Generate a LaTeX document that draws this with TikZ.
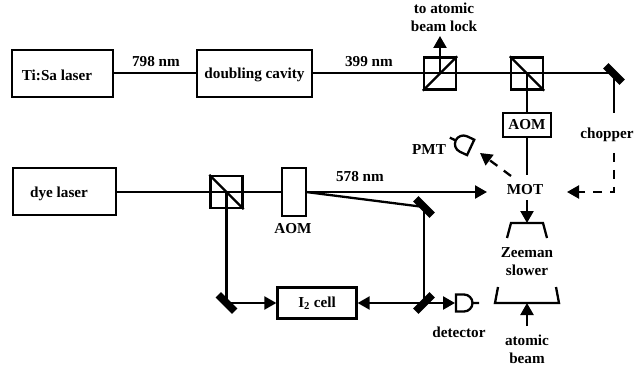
\documentclass[tikz,border=0pt]{standalone}
\usepackage{fontspec}
\setmainfont{Liberation Serif}
\usetikzlibrary{arrows.meta}
\tikzset{
  x=1pt,y=-1pt,
  every node/.style={font=\fontsize{15.2}{18}\selectfont\bfseries,inner sep=0pt},
  beam/.style={line width=2.3pt,line join=miter},
  arrowbeam/.style={beam,-{Triangle[length=12pt,width=13pt]}},
  dashbeam/.style={arrowbeam,dash pattern=on 9pt off 8pt},
  boxnode/.style={draw,line width=2.3pt,minimum width=#1,anchor=center},
  cube/.style={draw,line width=2.3pt,minimum width=32pt,minimum height=32pt},
  mirror/.style={fill=black,minimum width=23pt,minimum height=7.5pt},
  lbl/.style={align=center}
}
\newcommand{\photodet}[3]{%
  \draw[beam,shift={(#1,#2)},rotate=#3] (-8,-8.5) -- (0,-8.5) arc[start angle=90,end angle=-90,x radius=8.5,y radius=-8.5] -- (-8,8.5) -- cycle (8.5,0) -- (15,0);}
\begin{document}
\begin{tikzpicture}
\useasboundingbox (0,0) rectangle (634,366);
% boxes
\node[boxnode=101pt,minimum height=47pt] (tisa) at (62.5,73.5) {};
\node (tisalabel) at (57,75) {Ti:Sa laser};
\node[boxnode=115pt,minimum height=47pt] (dbl) at (254.5,73.5) {};
\node (dbllabel) at (254.5,75) {doubling cavity};
\node[boxnode=103pt,minimum height=47pt] (dye) at (64.5,191.5) {};
\node (dyelabel) at (59,194) {dye laser};
\node[boxnode=24pt,minimum height=48pt] (aomb) at (294,192) {};
\node[boxnode=48pt,minimum height=24pt] (aomt) at (527,125) {AOM};
\node[boxnode=79pt,minimum height=31pt] (cell) at (317,303) {I\textsubscript{2} cell};
% cubes
\node[cube] (bs1) at (440,73.5) {};
\node[cube] (bs2) at (527,73.5) {};
\node[cube] (bs3) at (226.5,192) {};
\draw[beam] (bs1.south west) -- (bs1.north east);
\draw[beam] (bs2.north west) -- (bs2.south east);
\draw[beam] (bs3.north west) -- (bs3.south east);
% mirrors
\node[mirror,rotate=-45] (m1) at (614,74) {};
\node[mirror,rotate=-45] (m2) at (424,207) {};
\node[mirror,rotate=45] (m3) at (424,303) {};
\node[mirror,rotate=-45] (m4) at (226.5,303) {};
% labels
\node (l798) at (156,62) {798 nm};
\node (l399) at (369,62) {399 nm};
\node (l578) at (360,177) {578 nm};
\node[lbl] (ltop) at (444,17) {to atomic\\beam lock};
\node[anchor=east] (lchop) at (633.7,135) {chopper};
\node (lpmt) at (429,150) {PMT};
\node (laom) at (293,229) {AOM};
\node (mot) at (525,190) {MOT};
\node[lbl] (zs) at (527,262) {Zeeman\\slower};
\node (ldet) at (459,332) {detector};
\node[lbl] (ab) at (527,349) {atomic\\beam};
% free ends
\coordinate (motin) at (487,192);
\coordinate (motr) at (567,192);
\coordinate (corner) at (614,192);
\coordinate (chopb) at (614,113);
\coordinate (chopt) at (614,153);
\coordinate (top) at (440,36);
\coordinate (aomd) at (527,175);
\coordinate (pmtt) at (511,176);
\coordinate (pmth) at (480,153);
\coordinate (motd) at (527,200);
\coordinate (zt1) at (527,223);
\coordinate (zb) at (527,303);
\coordinate (abt) at (527,326);
\coordinate (aomo) at (306,192);
\coordinate (detin) at (455,303);
% beams
\draw[beam] (tisa.east |- 0,73) -- (dbl.west |- 0,73);
\draw[beam] (dbl.east |- 0,73) -- (m1.center |- 0,73);
\draw[arrowbeam] (bs1.center) -- (top);
\draw[beam] (bs2.center) -- (aomt.north);
\draw[beam] (aomt.south) -- (aomd);
\draw[beam] (m1.center) -- (chopb);
\draw[dashbeam] (chopt) -- (corner) -- (motr);
\draw[dashbeam] (pmtt) -- (pmth);
\draw[beam] (dye.east |- 0,192) -- (aomb.west);
\draw[arrowbeam] (aomb.east) -- (motin);
\draw[beam] (aomo) -- (m2.center);
\draw[beam] (m2.center) -- (m3.center);
\draw[beam] (bs3.center) -- (m4.center);
\draw[arrowbeam] (m4.center) -- (cell.west);
\draw[arrowbeam] (m3.center) -- (cell.east);
\draw[arrowbeam] (m3.center) -- (detin);
\draw[arrowbeam] (motd) -- (zt1);
\draw[arrowbeam] (abt) -- (zb);
% Zeeman slower funnel
\draw[beam] (507,238) -- (511,223) -- (543,223) -- (547,238);
\draw[beam] (498,287) -- (495,303) -- (559,303) -- (556,287);
% photodetectors
\photodet{464}{303}{0}
\photodet{463.4}{144}{155}
\end{tikzpicture}
\end{document}
